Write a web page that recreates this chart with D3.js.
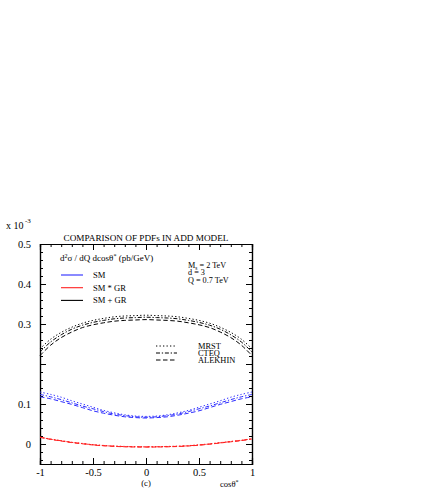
<!DOCTYPE html>
<html lang="en">
<head>
<meta charset="UTF-8">
<title>Comparison of PDFs in ADD model</title>
<script src="https://d3js.org/d3.v7.min.js"></script>
<style>
  body { margin: 0; background: #fff; }
  svg text { font-family: "Liberation Serif", "DejaVu Serif", serif; fill: #000; }
  .axis path, .axis line { stroke: #000; }
  .axis path { stroke-width: 1.2; }
</style>
</head>
<body>
<script>
// cos(theta*) sample points
const cosTheta = [-1, -0.9, -0.8, -0.7, -0.6, -0.5, -0.4, -0.3, -0.2, -0.1, 0,
                  0.1, 0.2, 0.3, 0.4, 0.5, 0.6, 0.7, 0.8, 0.9, 1];

// SM + GR (black), units of 1e-3 pb/GeV
const smgrMRST    = [0.238, 0.262, 0.279, 0.292, 0.302, 0.309, 0.314, 0.318, 0.320, 0.321, 0.322,
                     0.321, 0.320, 0.318, 0.314, 0.309, 0.302, 0.292, 0.279, 0.262, 0.238];
const smgrCTEQ    = [0.230, 0.255, 0.273, 0.287, 0.297, 0.304, 0.309, 0.313, 0.315, 0.316, 0.317,
                     0.316, 0.315, 0.313, 0.309, 0.304, 0.297, 0.287, 0.273, 0.255, 0.230];
const smgrALEKHIN = [0.221, 0.247, 0.266, 0.280, 0.291, 0.298, 0.303, 0.307, 0.309, 0.310, 0.311,
                     0.310, 0.309, 0.307, 0.303, 0.298, 0.291, 0.280, 0.266, 0.247, 0.221];

// SM (blue)
const smMRST      = [0.130, 0.124, 0.117, 0.108, 0.100, 0.092, 0.084, 0.078, 0.073, 0.070, 0.069,
                     0.070, 0.073, 0.078, 0.084, 0.092, 0.100, 0.108, 0.117, 0.124, 0.130];
const smCTEQ      = [0.124, 0.118, 0.111, 0.103, 0.095, 0.088, 0.081, 0.075, 0.071, 0.068, 0.067,
                     0.068, 0.071, 0.075, 0.081, 0.088, 0.095, 0.103, 0.111, 0.118, 0.124];
const smALEKHIN   = [0.118, 0.113, 0.106, 0.099, 0.091, 0.083, 0.077, 0.072, 0.068, 0.066, 0.065,
                     0.066, 0.068, 0.072, 0.077, 0.083, 0.091, 0.099, 0.106, 0.113, 0.118];

// SM * GR interference (red)
const intMRST     = [0.0175, 0.0125, 0.0085, 0.0045, 0.0015, -0.0015, -0.0035, -0.0050, -0.0060, -0.0065, -0.0067,
                     -0.0065, -0.0060, -0.0053, -0.0040, -0.0020, 0.0005, 0.0035, 0.0065, 0.0095, 0.0135];
const intCTEQ     = [0.0170, 0.0120, 0.0080, 0.0040, 0.0010, -0.0020, -0.0040, -0.0055, -0.0065, -0.0070, -0.0072,
                     -0.0070, -0.0065, -0.0058, -0.0045, -0.0025, 0.0000, 0.0030, 0.0060, 0.0090, 0.0130];
const intALEKHIN  = [0.0165, 0.0115, 0.0075, 0.0035, 0.0005, -0.0025, -0.0045, -0.0060, -0.0070, -0.0075, -0.0077,
                     -0.0075, -0.0070, -0.0063, -0.0050, -0.0030, -0.0005, 0.0025, 0.0055, 0.0085, 0.0125];

const yMajorTicks = [0, 0.1, 0.2, 0.3, 0.4, 0.5];
const yTickLabels = ["0", "0.1", "", "0.3", "0.4", "0.5"];
const xMajorTicks = [-1, -0.5, 0, 0.5, 1];
const xTickLabels = ["-1", "-0.5", "0", "0.5", "1"];

const pdfNames = ["MRST", "CTEQ", "ALEKHIN"];
const processNames = ["SM", "SM * GR", "SM + GR"];

const dashes = { MRST: "1.3,2.2", CTEQ: "4,1.8,1.3,1.8", ALEKHIN: "4.5,2.5" };
const colors = { "SM": "#2b2bff", "SM * GR": "#ff2020", "SM + GR": "#000" };

const width = 436, height = 491;
const margin = { left: 40, right: 184, top: 244, bottom: 27 };

const svg = d3.select("body").append("svg")
    .attr("width", width)
    .attr("height", height);

const x = d3.scaleLinear().domain([-1, 1]).range([margin.left, width - margin.right]);
const y = d3.scaleLinear().domain([-0.05, 0.5]).range([height - margin.bottom, margin.top]);

const minorX = d3.range(-10, 11).map(d => d / 10);
const minorY = d3.range(-2, 26).map(d => d / 50);

// axes, ticks pointing inwards on all four sides
svg.append("g").attr("class", "axis")
    .attr("transform", `translate(0,${y(-0.05)})`)
    .call(d3.axisBottom(x).tickValues(minorX).tickSize(-3).tickFormat(""));
svg.append("g").attr("class", "axis")
    .attr("transform", `translate(0,${y(-0.05)})`)
    .call(d3.axisBottom(x).tickValues(xMajorTicks).tickSize(-6).tickPadding(5)
        .tickFormat((d, i) => xTickLabels[i]))
    .call(g => g.selectAll("text").attr("font-size", 10.5));
svg.append("g").attr("class", "axis")
    .attr("transform", `translate(0,${y(0.5)})`)
    .call(d3.axisTop(x).tickValues(minorX).tickSize(-3).tickFormat(""));
svg.append("g").attr("class", "axis")
    .attr("transform", `translate(0,${y(0.5)})`)
    .call(d3.axisTop(x).tickValues(xMajorTicks).tickSize(-6).tickFormat(""));

svg.append("g").attr("class", "axis")
    .attr("transform", `translate(${x(-1)},0)`)
    .call(d3.axisLeft(y).tickValues(minorY).tickSize(-3).tickFormat(""));
svg.append("g").attr("class", "axis")
    .attr("transform", `translate(${x(-1)},0)`)
    .call(d3.axisLeft(y).tickValues(yMajorTicks).tickSize(-6).tickPadding(9)
        .tickFormat((d, i) => yTickLabels[i]))
    .call(g => g.selectAll("text").attr("font-size", 10.5));
svg.append("g").attr("class", "axis")
    .attr("transform", `translate(${x(1)},0)`)
    .call(d3.axisRight(y).tickValues(minorY).tickSize(-3).tickFormat(""));
svg.append("g").attr("class", "axis")
    .attr("transform", `translate(${x(1)},0)`)
    .call(d3.axisRight(y).tickValues(yMajorTicks).tickSize(-6).tickFormat(""));

// curves
const line = d3.line()
    .x((d, i) => x(cosTheta[i]))
    .y(d => y(d))
    .curve(d3.curveCatmullRom);

const series = [
  { proc: "SM + GR", pdf: "MRST", values: smgrMRST },
  { proc: "SM + GR", pdf: "CTEQ", values: smgrCTEQ },
  { proc: "SM + GR", pdf: "ALEKHIN", values: smgrALEKHIN },
  { proc: "SM", pdf: "MRST", values: smMRST },
  { proc: "SM", pdf: "CTEQ", values: smCTEQ },
  { proc: "SM", pdf: "ALEKHIN", values: smALEKHIN },
  { proc: "SM * GR", pdf: "MRST", values: intMRST },
  { proc: "SM * GR", pdf: "CTEQ", values: intCTEQ },
  { proc: "SM * GR", pdf: "ALEKHIN", values: intALEKHIN }
];

svg.append("g").selectAll("path")
  .data(series)
  .join("path")
    .attr("d", d => line(d.values))
    .attr("fill", "none")
    .attr("stroke", d => colors[d.proc])
    .attr("stroke-width", 1)
    .attr("stroke-dasharray", d => dashes[d.pdf]);

// texts
svg.append("text").attr("x", 6).attr("y", 229).attr("font-size", 10).text("x 10");
svg.append("text").attr("x", 25).attr("y", 223).attr("font-size", 7).text("-3");

svg.append("text").attr("x", x(0)).attr("y", 241).attr("text-anchor", "middle")
    .attr("font-size", 9.2).text("COMPARISON OF PDFs IN ADD MODEL");

const ylab = svg.append("text").attr("x", 60).attr("y", 261).attr("font-size", 9);
ylab.append("tspan").text("d");
ylab.append("tspan").attr("dy", -3).attr("font-size", 6).text("2");
ylab.append("tspan").attr("dy", 3).text("σ / dQ dcosθ");
ylab.append("tspan").attr("dy", -3).attr("font-size", 6).text("*");
ylab.append("tspan").attr("dy", 3).text(" (pb/GeV)");

// process legend
const procLeg = svg.append("g").selectAll("g")
  .data(processNames)
  .join("g")
    .attr("transform", (d, i) => `translate(0,${275 + i * 12.7})`);
procLeg.append("line")
    .attr("x1", 61).attr("x2", 83)
    .attr("stroke", d => colors[d]).attr("stroke-width", 1.1);
procLeg.append("text").attr("x", 93).attr("y", 3).attr("font-size", 8.6).text(d => d);

// parameters
const par = svg.append("g").attr("font-size", 8.2);
const ms = par.append("text").attr("x", 188).attr("y", 268);
ms.append("tspan").text("M");
ms.append("tspan").attr("dy", 2).attr("font-size", 5.5).text("s");
ms.append("tspan").attr("dy", -2).text(" = 2 TeV");
par.append("text").attr("x", 188).attr("y", 275).text("d = 3");
par.append("text").attr("x", 188).attr("y", 282.5).text("Q = 0.7 TeV");

// pdf legend
const pdfLeg = svg.append("g").selectAll("g")
  .data(pdfNames)
  .join("g")
    .attr("transform", (d, i) => `translate(0,${346 + i * 7})`);
pdfLeg.append("line")
    .attr("x1", 156).attr("x2", 177)
    .attr("stroke", "#000").attr("stroke-width", 1)
    .attr("stroke-dasharray", d => dashes[d]);
pdfLeg.append("text").attr("x", 198).attr("y", 3).attr("font-size", 8.4).text(d => d);

// x-axis annotations
svg.append("text").attr("x", x(0)).attr("y", 486).attr("text-anchor", "middle")
    .attr("font-size", 8.6).text("(c)");
const xl = svg.append("text").attr("x", 220).attr("y", 487).attr("font-size", 8.6);
xl.append("tspan").text("cosθ");
xl.append("tspan").attr("dy", -3).attr("font-size", 6).text("*");
</script>
</body>
</html>
